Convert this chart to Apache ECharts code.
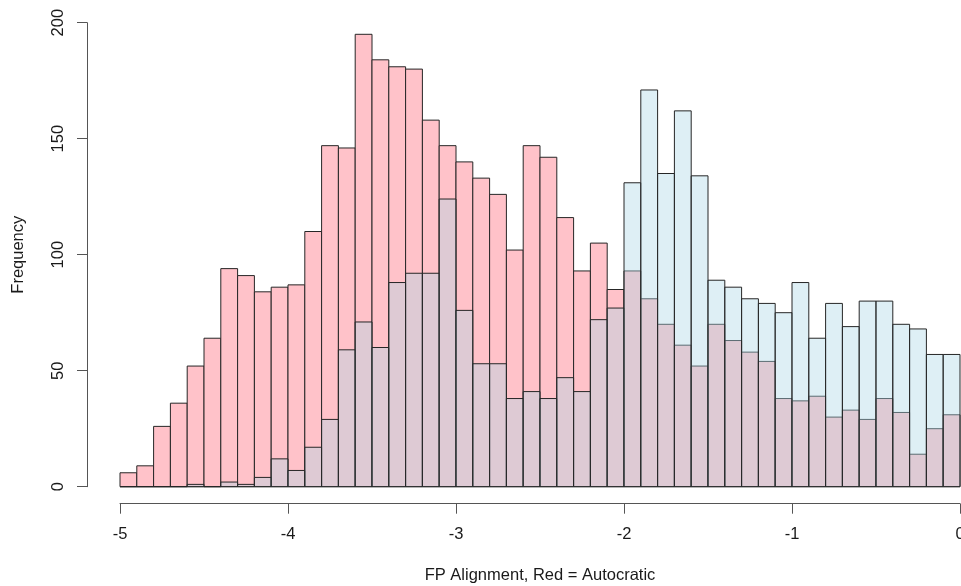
<!DOCTYPE html>
<html>
<head>
<meta charset="utf-8">
<script src="https://cdn.jsdelivr.net/npm/echarts@6/dist/echarts.min.js"></script>
<style>
  html, body { margin: 0; padding: 0; background: #ffffff; }
  #chart { width: 961px; height: 586px; }
</style>
</head>
<body>
<div id="chart"></div>
<script>
// Histogram bins: 50 bins of width 0.1 from -5 to 0
const binStart = -5;
const binWidth = 0.1;

// Counts per bin, autocratic regimes (red)
const autocraticCounts = [
  6, 9, 26, 36, 52, 64, 94, 91, 84, 86,
  87, 110, 147, 146, 195, 184, 181, 180, 158, 147,
  140, 133, 126, 102, 147, 142, 116, 93, 105, 85,
  93, 81, 70, 61, 52, 70, 63, 58, 54, 38,
  37, 39, 30, 33, 29, 38, 32, 14, 25, 31
];

// Counts per bin, other regimes (light blue)
const otherCounts = [
  0, 0, 0, 0, 1, 0, 2, 1, 4, 12,
  7, 17, 29, 59, 71, 60, 88, 92, 92, 124,
  76, 53, 53, 38, 41, 38, 47, 41, 72, 77,
  131, 171, 135, 162, 134, 89, 86, 81, 79, 75,
  88, 64, 79, 69, 80, 80, 70, 68, 57, 57
];

const xTicks = [-5, -4, -3, -2, -1, 0];
const yTicks = [0, 50, 100, 150, 200];

function toBins(counts) {
  return counts.map((c, i) => {
    const lo = +(binStart + i * binWidth).toFixed(2);
    const hi = +(binStart + (i + 1) * binWidth).toFixed(2);
    return [lo, hi, c];
  });
}

function histRenderer(fill) {
  return function (params, api) {
    const p0 = api.coord([api.value(0), 0]);
    const p1 = api.coord([api.value(1), api.value(2)]);
    return {
      type: 'rect',
      shape: { x: p0[0], y: p1[1], width: p1[0] - p0[0], height: p0[1] - p1[1] },
      style: { fill: fill, stroke: '#262626', lineWidth: 1 }
    };
  };
}

const font = 'Liberation Sans, Arial, sans-serif';
const chart = echarts.init(document.getElementById('chart'), null, { renderer: 'canvas' });

chart.setOption({
  animation: false,
  backgroundColor: '#ffffff',
  grid: {
    left: 120, right: 1, top: 22.7, bottom: 99.3,
    containLabel: false,
    outerBoundsMode: 'none'
  },
  xAxis: {
    type: 'value',
    position: 'bottom',
    min: xTicks[0],
    max: xTicks[xTicks.length - 1],
    interval: 1,
    offset: 17,
    name: 'FP Alignment, Red = Autocratic',
    nameLocation: 'middle',
    nameGap: 63,
    nameTextStyle: { fontFamily: font, fontSize: 16.5, color: '#1a1a1a' },
    axisLine: { show: true, onZero: false, lineStyle: { color: '#555', width: 1 } },
    axisTick: { show: true, length: 10, lineStyle: { color: '#555' } },
    axisLabel: { fontFamily: font, fontSize: 16.5, color: '#1a1a1a', margin: 22 },
    splitLine: { show: false }
  },
  yAxis: {
    type: 'value',
    position: 'left',
    min: yTicks[0],
    max: yTicks[yTicks.length - 1],
    interval: 50,
    offset: 33,
    name: 'Frequency',
    nameLocation: 'middle',
    nameGap: 60,
    nameTextStyle: { fontFamily: font, fontSize: 16.5, color: '#1a1a1a' },
    axisLine: { show: true, onZero: false, lineStyle: { color: '#555', width: 1 } },
    axisTick: { show: true, length: 10, lineStyle: { color: '#555' } },
    axisLabel: { fontFamily: font, fontSize: 16.5, color: '#1a1a1a', rotate: 90, margin: 20 },
    splitLine: { show: false }
  },
  series: [
    {
      type: 'custom',
      name: 'Autocratic',
      renderItem: histRenderer('rgb(255,194,201)'),
      encode: { x: [0, 1], y: 2 },
      data: toBins(autocraticCounts),
      z: 1
    },
    {
      type: 'custom',
      name: 'Other',
      renderItem: histRenderer('rgba(173,216,230,0.4)'),
      encode: { x: [0, 1], y: 2 },
      data: toBins(otherCounts),
      z: 2
    }
  ]
});
</script>
</body>
</html>
